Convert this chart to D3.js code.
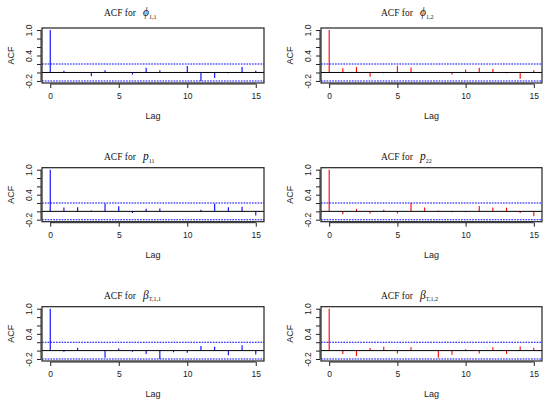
<!DOCTYPE html>
<html>
<head>
<meta charset="utf-8">
<script src="https://cdn.jsdelivr.net/npm/d3@7"></script>
<style>
  body { margin: 0; background: #fff; }
  svg { display: block; }
  .tick text { font-family: "Liberation Sans", Arial, sans-serif; }
</style>
</head>
<body>
<script>
// lags shown on every panel
var lags = [0, 1, 2, 3, 4, 5, 6, 7, 8, 9, 10, 11, 12, 13, 14, 15];

// autocorrelations, one array per parameter
var acfPhi11  = [1.0, 0.04, 0.01, -0.09, 0.05, 0.01, -0.05, 0.11, 0.05, -0.01, 0.15, -0.20, -0.13, -0.02, 0.13, 0.04];
var acfPhi12  = [1.0, 0.10, 0.13, -0.10, -0.02, 0.16, 0.12, -0.01, 0.01, -0.05, 0.07, 0.11, 0.08, -0.02, -0.15, 0.05];
var acfP11    = [1.0, 0.09, 0.10, 0.02, 0.19, 0.12, -0.04, 0.06, 0.07, 0.01, -0.01, 0.04, 0.18, 0.10, 0.11, -0.10];
var acfP22    = [1.0, -0.07, 0.06, -0.05, 0.04, -0.05, 0.20, 0.09, 0.02, -0.02, -0.02, 0.13, 0.09, 0.09, -0.04, -0.12];
var acfBeta11 = [1.0, -0.03, 0.07, 0.00, -0.17, 0.05, -0.03, -0.08, -0.20, -0.04, -0.05, 0.11, 0.09, -0.11, 0.13, -0.09];
var acfBeta12 = [1.0, -0.08, -0.13, 0.06, 0.09, -0.07, 0.08, 0.01, -0.17, -0.10, 0.03, -0.07, 0.08, -0.08, 0.10, 0.07];

// confidence bound drawn as dashed lines
var ciBound = 0.2;

// title symbols and subscripts
var symbols    = ["\u03D5", "\u03D5", "p", "p", "\u03B2", "\u03B2"];
var subscripts = ["1,1", "1,2", "11", "22", "T,1,1", "T,1,2"];
var barColors  = ["blue", "red", "blue", "red", "blue", "red"];

var xTicks = [0, 5, 10, 15];
var yTicks = [-0.2, 0, 0.2, 0.4, 0.6, 0.8, 1.0];
var yTickLabels = ["-0.2", "", "", "0.4", "", "", "1.0"];

var series = [acfPhi11, acfPhi12, acfP11, acfP22, acfBeta11, acfBeta12];

var W = 550, H = 402;

// plot box positions for each column / row
var colBox = [[42, 264], [321, 542]];
var rowBox = [[28, 83], [167.7, 221.7], [306.7, 361]];
var titleOffset = [15.5, 11, 11.7];
var titleStart = [62, 60];

var svg = d3.select("body").append("svg")
    .attr("width", W)
    .attr("height", H);

series.forEach(function(values, i){
    var col = i % 2, row = Math.floor(i / 2);
    var x0 = colBox[col][0], x1 = colBox[col][1];
    var y0 = rowBox[row][0], y1 = rowBox[row][1];

    var x = d3.scaleLinear().domain([-0.6, 15.6]).range([x0, x1]);
    var y = d3.scaleLinear().domain([-0.248, 1.048]).range([y1, y0]);

    var g = svg.append("g");

    // spikes
    g.selectAll(".spike")
        .data(lags)
        .enter().append("line")
        .attr("class", "spike")
        .attr("x1", function(d){ return x(d); })
        .attr("x2", function(d){ return x(d); })
        .attr("y1", y(0))
        .attr("y2", function(d){ return y(values[d]); })
        .attr("stroke", barColors[i])
        .attr("stroke-width", 1.1);

    // zero line
    g.append("line")
        .attr("x1", x0).attr("x2", x1)
        .attr("y1", y(0)).attr("y2", y(0))
        .attr("stroke", "#000")
        .attr("stroke-width", 1);

    // confidence bounds
    [ciBound, -ciBound].forEach(function(c){
        g.append("line")
            .attr("x1", x0).attr("x2", x1)
            .attr("y1", y(c)).attr("y2", y(c))
            .attr("stroke", "blue")
            .attr("stroke-width", 1.1)
            .attr("stroke-dasharray", "1.7,1.1");
    });

    // box
    g.append("rect")
        .attr("x", x0).attr("y", y0)
        .attr("width", x1 - x0).attr("height", y1 - y0)
        .attr("fill", "none")
        .attr("stroke", "#222")
        .attr("stroke-width", 1.2);

    // x axis
    var xAxis = g.append("g")
        .attr("transform", "translate(0," + (y1 + 1) + ")")
        .call(d3.axisBottom(x).tickValues(xTicks).tickSize(4).tickPadding(5));
    xAxis.select(".domain").attr("d", "M" + x(0) + ",0H" + x(15)).attr("stroke", "#222");
    xAxis.selectAll(".tick text").attr("font-size", 8.5).attr("fill", "#222");
    xAxis.selectAll(".tick line").attr("stroke", "#222");

    // y axis
    var yAxis = g.append("g")
        .attr("transform", "translate(" + (x0 - 1) + ",0)")
        .call(d3.axisLeft(y).tickValues(yTicks).tickSize(4)
            .tickFormat(function(d, k){ return yTickLabels[k]; }));
    yAxis.select(".domain").attr("d", "M0," + y(-0.2) + "V" + y(1.0)).attr("stroke", "#222");
    yAxis.selectAll(".tick line").attr("stroke", "#222");
    yAxis.selectAll(".tick text")
        .attr("font-size", 8.5)
        .attr("fill", "#222")
        .attr("x", null).attr("dy", null)
        .attr("text-anchor", "middle")
        .attr("transform", "translate(-9,0) rotate(-90)");

    // axis titles
    g.append("text")
        .attr("x", (x0 + x1) / 2)
        .attr("y", y1 + 36)
        .attr("text-anchor", "middle")
        .attr("font-family", "Liberation Sans, Arial, sans-serif")
        .attr("font-size", 9)
        .attr("fill", "#222")
        .text("Lag");

    g.append("text")
        .attr("transform", "translate(" + (x0 - 28) + "," + ((y0 + y1) / 2) + ") rotate(-90)")
        .attr("text-anchor", "middle")
        .attr("font-family", "Liberation Sans, Arial, sans-serif")
        .attr("font-size", 9)
        .attr("fill", "#222")
        .text("ACF");

    // title with math symbol and subscript
    var t = g.append("text")
        .attr("x", x0 + titleStart[col])
        .attr("y", y0 - titleOffset[row] + 3.5)
        .attr("text-anchor", "start")
        .attr("font-family", "Liberation Serif, 'Times New Roman', serif")
        .attr("font-size", 9.5)
        .attr("fill", "#111");
    t.append("tspan").text("ACF for");
    t.append("tspan").attr("dx", 7).attr("font-style", "italic").attr("font-size", 11.5).text(symbols[i]);
    t.append("tspan").attr("font-size", 6).attr("dy", 2.5).text(subscripts[i]);
});
</script>
</body>
</html>
